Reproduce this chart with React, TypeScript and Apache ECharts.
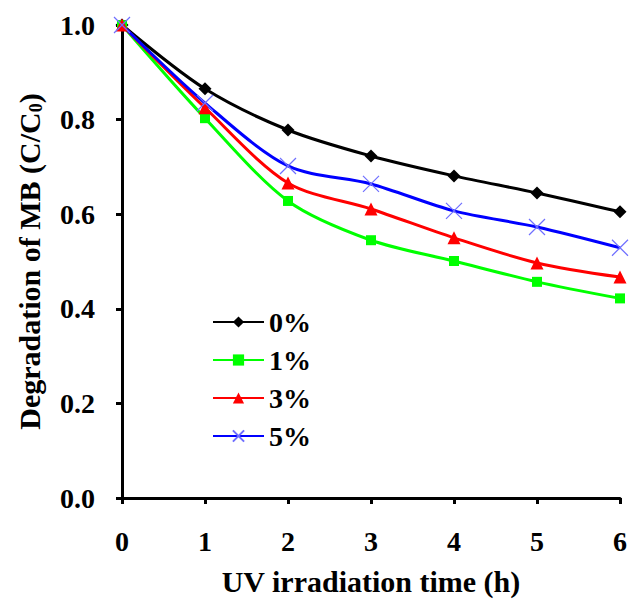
import React, { useEffect, useRef } from "react";
import * as echarts from "echarts";

const hours = [0, 1, 2, 3, 4, 5, 6];
const seriesNames = ["0%", "1%", "3%", "5%"];
const s0 = [1.0, 0.865, 0.778, 0.723, 0.681, 0.645, 0.605];
const s1 = [1.0, 0.803, 0.628, 0.545, 0.501, 0.457, 0.422];
const s3 = [1.0, 0.825, 0.666, 0.611, 0.55, 0.497, 0.467];
const s5 = [1.0, 0.835, 0.702, 0.664, 0.607, 0.573, 0.529];
const yTicks = [0, 0.2, 0.4, 0.6, 0.8, 1.0];
const xTicks = [0, 1, 2, 3, 4, 5, 6];

const FONT = "'Liberation Serif', 'Times New Roman', serif";

export default function App() {
  const ref = useRef<HTMLDivElement>(null);
  useEffect(() => {
    if (!ref.current) return;
    const chart = echarts.init(ref.current, undefined, { renderer: "svg" });
    const mk = (vals: number[]) => hours.map((h, i) => [h, vals[i]]);
    const cross = "path://M0,0L10,10M10,0L0,10";
    const option: any = {
      animation: false,
      backgroundColor: "#fff",
      grid: { left: 122, right: 8, top: 25, bottom: 108, containLabel: false },
      legend: {
        orient: "vertical",
        left: 207,
        top: 303,
        itemWidth: 51,
        itemHeight: 14,
        itemGap: 10,
        textStyle: { fontFamily: FONT, fontWeight: "bold", fontSize: 28, color: "#000" },
        data: seriesNames,
      },
      xAxis: {
        type: "value",
        min: xTicks[0],
        max: xTicks[xTicks.length - 1],
        interval: 1,
        name: "UV irradiation time (h)",
        nameLocation: "middle",
        nameGap: 68,
        nameTextStyle: { fontFamily: FONT, fontWeight: "bold", fontSize: 30, color: "#000" },
        axisLine: { lineStyle: { color: "#000", width: 3 } },
        axisTick: { inside: false, length: 6, lineStyle: { width: 3, color: "#000" } },
        axisLabel: { fontFamily: FONT, fontWeight: "bold", fontSize: 28, color: "#000", margin: 29 },
        splitLine: { show: false },
      },
      yAxis: {
        type: "value",
        min: yTicks[0],
        max: yTicks[yTicks.length - 1],
        interval: 0.2,
        name: "{a|Degradation of MB (C/C}{s|0}{a|)}",
        nameLocation: "middle",
        nameGap: 77,
        nameRotate: 90,
        nameTextStyle: {
          rich: {
            a: { fontFamily: FONT, fontWeight: "bold", fontSize: 30, color: "#000", lineHeight: 32 },
            s: { fontFamily: FONT, fontWeight: "bold", fontSize: 18, color: "#000", lineHeight: 32, padding: [14, 0, 0, 0] },
          },
        },
        axisLine: { lineStyle: { color: "#000", width: 3 } },
        axisTick: { inside: false, length: 6, lineStyle: { width: 3, color: "#000" } },
        axisLabel: {
          fontFamily: FONT,
          fontWeight: "bold",
          fontSize: 28,
          color: "#000",
          margin: 27,
          formatter: (v: number) => v.toFixed(1),
        },
        splitLine: { show: false },
      },
      series: [
        {
          name: seriesNames[0],
          type: "line",
          data: mk(s0),
          smooth: 0.3,
          symbol: "diamond",
          symbolSize: 13,
          itemStyle: { color: "#000" },
          lineStyle: { color: "#000", width: 3 },
        },
        {
          name: seriesNames[1],
          type: "line",
          data: mk(s1),
          smooth: 0.3,
          symbol: "rect",
          symbolSize: 10,
          itemStyle: { color: "#00ff00" },
          lineStyle: { color: "#00ff00", width: 3 },
        },
        {
          name: seriesNames[2],
          type: "line",
          data: mk(s3),
          smooth: 0.3,
          symbol: "triangle",
          symbolSize: 13,
          itemStyle: { color: "#ff0000" },
          lineStyle: { color: "#ff0000", width: 3 },
        },
        {
          name: seriesNames[3],
          type: "line",
          data: mk(s5),
          smooth: 0.3,
          symbol: cross,
          symbolSize: 16,
          itemStyle: { color: "none", borderColor: "#6f6fff", borderWidth: 1.2 },
          lineStyle: { color: "#0000ff", width: 3 },
        },
      ],
    };
    chart.setOption(option);
    return () => chart.dispose();
  }, []);
  return (
    <div
      ref={ref}
      style={{ position: "fixed", left: 0, top: 0, width: 630, height: 606 }}
    />
  );
}
